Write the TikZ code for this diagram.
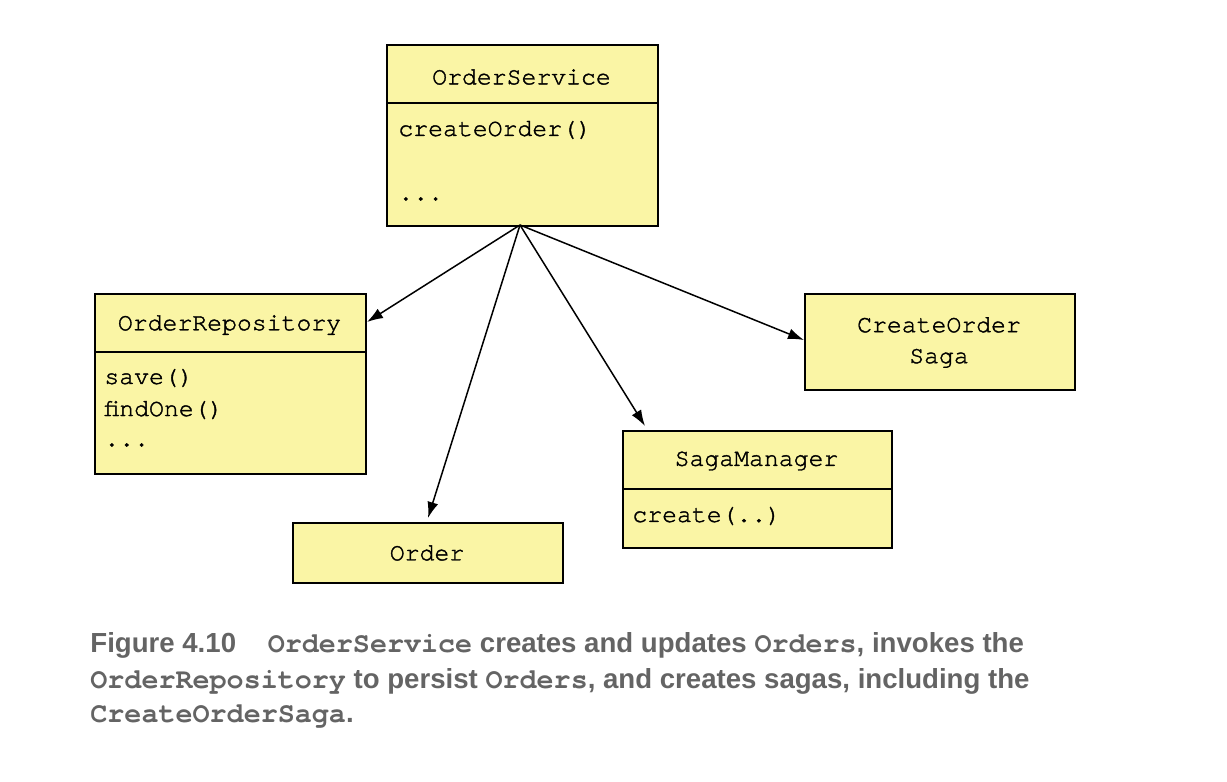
\documentclass[tikz,border=0pt]{standalone}
\usepackage{fontspec}
\setmainfont{Liberation Sans}
\setmonofont{TeX Gyre Cursor}
\newfontfamily\boxmono{TeX Gyre Cursor}[FakeBold=1.5]
\usetikzlibrary{arrows.meta}
\definecolor{boxfill}{HTML}{FAF5A5}
\definecolor{capgray}{HTML}{646464}
\tikzset{
  umlbox/.style={draw=black, line width=1pt, fill=boxfill, inner sep=0pt, anchor=north west},
  divider/.style={draw=black, line width=1pt},
  boxtext/.style={font=\boxmono\fontsize{12.4}{14}\selectfont, inner sep=0pt},
  conn/.style={draw=black, line width=0.75pt, -{Latex[length=8pt,width=5.5pt]}},
  captext/.style={font=\bfseries\fontsize{13.8}{16}\selectfont, text=capgray, inner sep=0pt, anchor=base west}
}
\newcommand{\cm}[1]{{\ttfamily\bfseries\fontsize{14.2}{16}\selectfont #1}}
\begin{document}
\begin{tikzpicture}[x=0.5pt, y=-0.5pt]
\useasboundingbox (0,0) rectangle (1227,782);
% OrderService
\node[umlbox, minimum width=135.5pt, minimum height=90.5pt] (os) at (386,44) {};
\draw[divider] (386,103) -- (657,103);
\node[boxtext] (osT) at (521.5,77) {OrderService};
\node[boxtext, anchor=west] (osM1) at (398,130) {createOrder()};
\node[boxtext, anchor=west] (osM2) at (398,199) {...};
\coordinate (src) at (520,225);
% OrderRepository
\node[umlbox, minimum width=135.5pt, minimum height=90pt] (repo) at (94,293) {};
\draw[divider] (94,352) -- (365,352);
\node[boxtext] (repoT) at (229.5,325) {OrderRepository};
\node[boxtext, anchor=west] (repoM1) at (104,378) {save()};
\node[boxtext, anchor=west] (repoM2) at (104,410) {findOne()};
\node[boxtext, anchor=west] (repoM3) at (104,445) {...};
% CreateOrderSaga
\node[umlbox, minimum width=135pt, minimum height=48pt] (cos) at (804,293) {};
\node[boxtext, align=center] (cosT) at (939,342.5) {CreateOrder\\[1.5pt]Saga};
% SagaManager
\node[umlbox, minimum width=134.5pt, minimum height=58.5pt] (sm) at (622,430) {};
\draw[divider] (622,489) -- (891,489);
\node[boxtext] (smT) at (756.5,461) {SagaManager};
\node[boxtext, anchor=west] (smM1) at (632,516) {create(..)};
% Order
\node[umlbox, minimum width=135pt, minimum height=30pt] (order) at (292,522) {};
\node[boxtext] (orderT) at (427,553) {Order};
% connectors
\draw[conn] (src) -- ([yshift=-14.5pt]repo.north east);
\draw[conn] (src) -- ([xshift=68pt,yshift=2pt]order.north west);
\draw[conn] (src) -- ([xshift=11.5pt,yshift=2pt]sm.north west);
\draw[conn] (src) -- ([yshift=-23.5pt]cos.north west);
% caption
\node[captext] (cap1) at (90,652) {Figure 4.10\hspace{12pt} \cm{OrderService} creates and updates \cm{Orders}, invokes the};
\node[captext] (cap2) at (90,688) {\cm{OrderRepository} to persist \cm{Orders}, and creates sagas, including the};
\node[captext] (cap3) at (90,722) {\cm{CreateOrderSaga}.};
\end{tikzpicture}
\end{document}
